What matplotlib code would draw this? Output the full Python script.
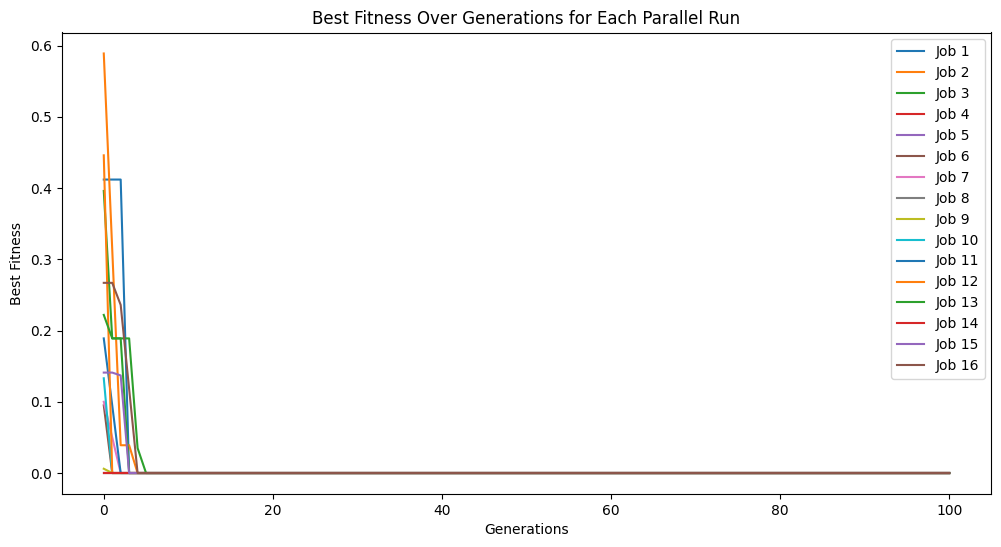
import numpy as np
import matplotlib
matplotlib.use("Agg")
import matplotlib.pyplot as plt

# generations 0..100, best fitness per job; after the listed values every job stays at 0
n_generations = 101
job_names = ["Job %d" % i for i in range(1, 17)]

job1 = [0.412, 0.412, 0.412, 0.0]
job2 = [0.589, 0.314, 0.039, 0.039, 0.0]
job3 = [0.396, 0.189, 0.189, 0.0]
job4 = [0.0]
job5 = [0.0]
job6 = [0.095, 0.0]
job7 = [0.10, 0.05, 0.0]
job8 = [0.0]
job9 = [0.006, 0.0]
job10 = [0.133, 0.0]
job11 = [0.189, 0.095, 0.0]
job12 = [0.446, 0.0]
job13 = [0.222, 0.189, 0.189, 0.189, 0.035, 0.0]
job14 = [0.0]
job15 = [0.141, 0.141, 0.137, 0.0]
job16 = [0.267, 0.267, 0.236, 0.118, 0.0]

jobs = [job1, job2, job3, job4, job5, job6, job7, job8,
        job9, job10, job11, job12, job13, job14, job15, job16]


def pad(vals, n):
    out = np.zeros(n)
    out[:len(vals)] = vals
    return out


def main():
    fig = plt.figure(figsize=(10.01, 5.47), dpi=100)
    ax = fig.add_axes([61.5 / 1001, 53 / 547, 930 / 1001, 461.5 / 547])

    gens = np.arange(n_generations)
    for name, vals in zip(job_names, jobs):
        ax.plot(gens, pad(vals, n_generations), label=name)

    ax.set_title("Best Fitness Over Generations for Each Parallel Run")
    ax.set_xlabel("Generations")
    ax.set_ylabel("Best Fitness")
    ax.legend(loc="upper right")

    fig.savefig("out.png", dpi=100)


if __name__ == "__main__":
    main()
